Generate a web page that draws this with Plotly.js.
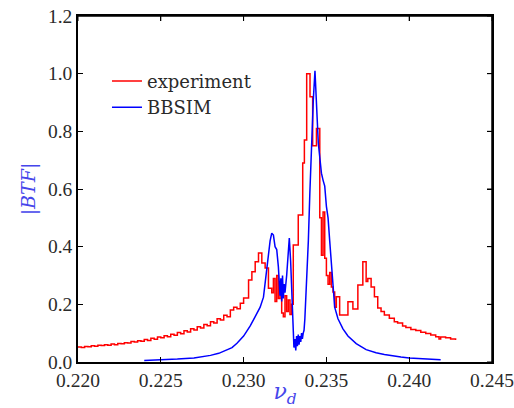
<!DOCTYPE html>
<html>
<head>
<meta charset="utf-8">
<script src="https://cdn.plot.ly/plotly-3.0.1.min.js"></script>
<style>html,body{margin:0;padding:0;background:#fff;overflow:hidden}#chart{width:514px;height:408px}</style>
</head>
<body>
<div id="chart"></div>
<script>
// experiment (red, stepped)
var expNu = [0.2200,0.2202,0.2204,0.2206,0.2208,0.2210,0.2212,0.2214,0.2216,0.2218,
  0.2220,0.2222,0.2224,0.2226,0.2228,0.2230,0.2232,0.2234,0.2236,0.2238,
  0.2240,0.2242,0.2244,0.2246,0.2248,0.2250,0.2252,0.2254,0.2256,0.2258,
  0.2260,0.2262,0.2264,0.2266,0.2268,0.2270,0.2272,0.2274,0.2276,0.2278,
  0.2280,0.2282,0.2284,0.2286,0.2288,0.2290,0.2292,0.2294,0.2296,0.2298,
  0.2300,0.2303,0.2305,0.2307,0.2309,0.2311,0.2313,0.2315,0.2317,0.2318,
  0.2319,0.2320,0.2321,0.2322,0.2323,0.2324,0.2325,0.2326,0.2327,0.2328,
  0.2329,0.2330,0.2333,0.23357,0.23367,0.23381,0.23401,0.23417,0.2344,0.2346,
  0.2347,0.2348,0.2349,0.2350,0.2351,0.2352,0.2353,0.2354,0.2355,0.2356,
  0.2358,0.2363,0.2366,0.2369,0.2372,0.2374,0.2375,0.2377,0.2379,0.2381,
  0.2383,0.2385,0.2388,0.2391,0.2393,0.2396,0.2398,0.2401,0.2404,0.2407,
  0.2410,0.2413,0.2416,0.2418,0.2419,0.2422,0.2425,0.2428];
var expBTF = [0.052,0.050,0.054,0.053,0.056,0.055,0.058,0.057,0.060,0.058,
  0.062,0.060,0.064,0.063,0.067,0.066,0.071,0.069,0.074,0.072,
  0.078,0.075,0.082,0.079,0.087,0.084,0.091,0.088,0.096,0.093,
  0.102,0.098,0.108,0.104,0.115,0.111,0.122,0.118,0.130,0.126,
  0.140,0.135,0.150,0.146,0.162,0.157,0.180,0.190,0.185,0.204,
  0.222,0.284,0.313,0.348,0.378,0.343,0.326,0.256,0.240,0.290,
  0.210,0.300,0.220,0.240,0.170,0.157,0.230,0.175,0.215,0.165,
  0.200,0.406,0.510,0.690,0.770,1.000,0.920,0.750,0.810,0.500,
  0.370,0.520,0.360,0.300,0.270,0.310,0.260,0.243,0.190,0.226,
  0.163,0.209,0.184,0.267,0.348,0.279,0.290,0.260,0.226,0.187,
  0.175,0.163,0.152,0.140,0.135,0.125,0.120,0.113,0.109,0.103,
  0.099,0.094,0.088,0.080,0.087,0.084,0.080,0.076];

// BBSIM (blue)
var simNu = [0.2240,0.2250,0.2260,0.2270,0.2275,0.2280,0.2285,0.2290,0.2293,0.2296,
  0.2300,0.2304,0.2307,0.2310,0.2312,0.2313,0.2314,0.2315,0.2316,0.2317,
  0.2318,0.2319,0.2320,0.2321,0.23215,0.2322,0.23225,0.2323,0.23235,0.2324,
  0.23245,0.2325,0.2326,0.2327,0.23276,0.23284,0.2329,0.23296,0.23304,0.2331,
  0.23315,0.2332,0.23325,0.2333,0.23335,0.2334,0.23345,0.2335,0.23355,0.2336,
  0.23365,0.2337,0.2338,0.23391,0.2340,0.23411,0.23421,0.23431,0.23441,0.23451,
  0.2346,0.2347,0.2348,0.2349,0.2350,0.2351,0.2352,0.2353,0.2354,0.2355,
  0.2357,0.2360,0.2363,0.2368,0.2374,0.2380,0.2385,0.2390,0.2395,0.2400,
  0.2405,0.2410,0.2419];
var simBTF = [0.005,0.007,0.010,0.014,0.018,0.023,0.030,0.042,0.050,0.065,
  0.090,0.125,0.158,0.190,0.225,0.280,0.330,0.380,0.420,0.447,
  0.440,0.400,0.390,0.330,0.280,0.230,0.290,0.210,0.300,0.220,
  0.270,0.240,0.300,0.378,0.430,0.350,0.260,0.150,0.050,0.080,
  0.040,0.090,0.055,0.095,0.060,0.090,0.070,0.100,0.080,0.100,
  0.110,0.150,0.260,0.420,0.585,0.770,0.910,1.010,0.874,0.760,
  0.710,0.655,0.630,0.610,0.540,0.500,0.420,0.330,0.250,0.190,
  0.150,0.115,0.090,0.064,0.043,0.032,0.026,0.021,0.017,0.014,
  0.012,0.010,0.008];

var xTicks = [0.220,0.225,0.230,0.235,0.240,0.245];
var yTicks = [0.0,0.2,0.4,0.6,0.8,1.0,1.2];

var tickSerif = "'Liberation Serif', 'DejaVu Serif', serif";
var serif = "'DejaVu Serif', 'Liberation Serif', serif";
var titleBlue = "rgb(70,70,235)";

var traces = [
  {x: expNu, y: expBTF, type: "scatter", mode: "lines", name: "experiment",
   line: {color: "red", width: 1.5, shape: "hv"}},
  {x: simNu, y: simBTF, type: "scatter", mode: "lines", name: "BBSIM",
   line: {color: "blue", width: 1.5}}
];

var xRange = [0.220, 0.245];
var yRange = [0, 1.2];

var axisCommon = {
  showline: true, linecolor: "#000", linewidth: 1.5, mirror: "ticks",
  ticks: "inside", ticklen: 5, tickwidth: 1, tickcolor: "#000",
  showgrid: false, zeroline: false, ticklabeloverflow: "allow",
  tickfont: {family: tickSerif, size: 19.5, color: "#2a2a2a"}
};

// frame on the top and right, plus mirrored inside ticks, built from the tick arrays
var frame = [
  {type: "line", xref: "paper", yref: "paper", x0: 0, x1: 1, y0: 1, y1: 1, line: {color: "#000", width: 1.5}},
  {type: "line", xref: "paper", yref: "paper", x0: 1, x1: 1, y0: 0, y1: 1, line: {color: "#000", width: 1.5}}
];
var tickLenX = 5 / 346, tickLenY = 5 / 414;
xTicks.forEach(function (t) {
  frame.push({type: "line", xref: "x", yref: "paper", x0: t, x1: t, y0: 1, y1: 1 - tickLenX, line: {color: "#000", width: 1}});
});
yTicks.forEach(function (t) {
  frame.push({type: "line", xref: "paper", yref: "y", x0: 1, x1: 1 - tickLenY, y0: t, y1: t, line: {color: "#000", width: 1}});
});

var layout = {
  width: 514, height: 408,
  margin: {l: 78, r: 22, t: 16, b: 46},
  paper_bgcolor: "#fff", plot_bgcolor: "#fff",
  showlegend: true,
  legend: {x: 0.07, y: 0.865, xanchor: "left", yanchor: "top",
           bgcolor: "rgba(0,0,0,0)", borderwidth: 0,
           font: {family: serif, size: 18, color: "#2a2a2a"}, tracegroupgap: 0},
  xaxis: Object.assign({}, axisCommon, {
    range: xRange, tickvals: xTicks, tickformat: ".3f",
    title: {text: "<i>ν</i><sub><i>d</i></sub>", font: {family: serif, size: 22, color: titleBlue}, standoff: 0}
  }),
  yaxis: Object.assign({}, axisCommon, {
    range: yRange, tickvals: yTicks, tickformat: ".1f",
    title: {text: "|<i>BTF</i>|", font: {family: serif, size: 19, color: titleBlue}, standoff: 7}
  }),
  shapes: frame
};

Plotly.newPlot("chart", traces, layout, {displayModeBar: false});
</script>
</body>
</html>
